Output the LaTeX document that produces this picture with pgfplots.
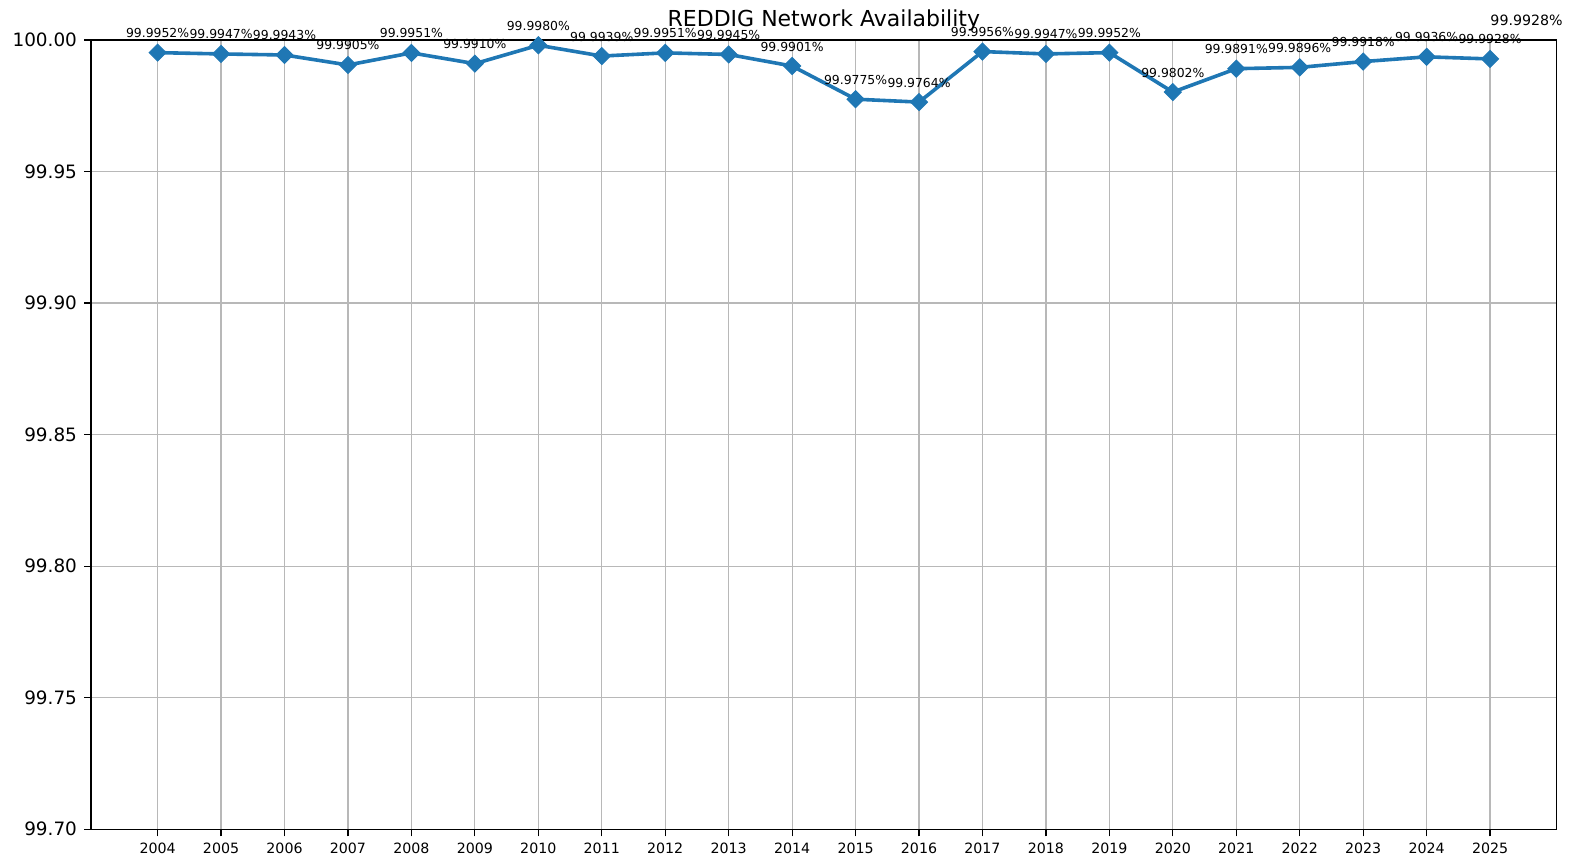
\documentclass[border=0pt]{standalone}
\usepackage{fontspec}
\setmainfont{DejaVu Sans}
\usepackage{pgfplots}
\usepackage{pgfplotstable}
\pgfplotsset{compat=1.18}
\definecolor{tabblue}{HTML}{1F77B4}
\definecolor{gridgray}{HTML}{B8B8B8}
\pgfplotstableread{
year val
2004 99.9952
2005 99.9947
2006 99.9943
2007 99.9905
2008 99.9951
2009 99.9910
2010 99.9980
2011 99.9939
2012 99.9951
2013 99.9945
2014 99.9901
2015 99.9775
2016 99.9764
2017 99.9956
2018 99.9947
2019 99.9952
2020 99.9802
2021 99.9891
2022 99.9896
2023 99.9918
2024 99.9936
2025 99.9928
}\availdata
\begin{document}
\begin{tikzpicture}
\path[use as bounding box] (-45.5pt,-16.35pt) rectangle (742pt,414.65pt);
\begin{axis}[
  at={(0,0)}, anchor=south west,
  scale only axis,
  width=732.85pt, height=394.65pt,
  xmin=2002.95, xmax=2026.05,
  ymin=99.70, ymax=100.00,
  xtick={2004,2005,...,2025},
  ytick={99.70,99.75,99.80,99.85,99.90,99.95,100.00},
  yticklabels={99.70,99.75,99.80,99.85,99.90,99.95,100.00},
  xticklabel style={/pgf/number format/1000 sep={}, font=\fontsize{7.1}{8.5}\selectfont},
  yticklabel style={font=\fontsize{9.2}{11}\selectfont},
  /pgf/number format/assume math mode=true,
  tick align=outside,
  major tick length=3.5pt,
  tick style={black, line width=0.6pt},
  axis line style={black, line width=0.6pt},
  xtick pos=bottom, ytick pos=left,
  grid=major,
  major grid style={gridgray, line width=0.6pt},
  clip=false,
  title={REDDIG Network Availability},
  every axis title/.style={at={(0.5,1)}, anchor=base, yshift=6.65pt, inner sep=0pt, font=\fontsize{11}{13}\selectfont},
  point meta=explicit symbolic,
  nodes near coords={\pgfplotspointmeta\%},
  every node near coord/.append style={anchor=base, yshift=7.5pt, inner sep=0pt, black, font=\fontsize{6.2}{7.5}\selectfont},
]
\addplot[tabblue, line width=1.8pt, mark=square*, mark size=3pt,
  mark options={rotate=45, fill=tabblue, draw=tabblue, line width=0.5pt}]
  table[x=year, y=val, meta=val] {\availdata};
\node[anchor=base west, inner sep=0pt, font=\fontsize{7.1}{8.5}\selectfont] at (axis cs:2025,100.0055) {99.9928\%};
\end{axis}
\end{tikzpicture}
\end{document}
